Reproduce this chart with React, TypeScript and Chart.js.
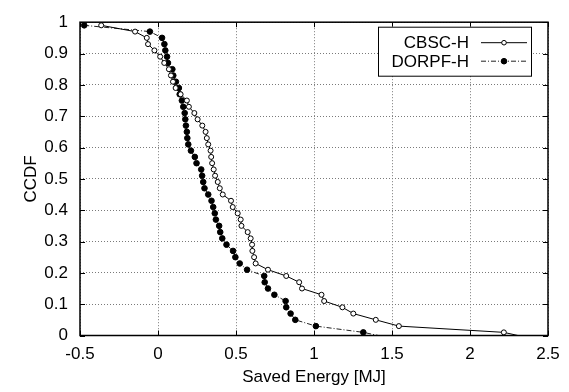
import { useEffect, useRef } from 'react';
import { Chart, registerables } from 'chart.js';

Chart.register(...registerables);

const seriesNames = ['CBSC-H', 'DORPF-H'];

const ccdfLevels = [
  0.99, 0.97, 0.95, 0.93, 0.91, 0.89, 0.87, 0.85, 0.83, 0.81,
  0.79, 0.77, 0.75, 0.73, 0.71, 0.69, 0.67, 0.65, 0.63, 0.61,
  0.59, 0.57, 0.55, 0.53, 0.51, 0.49, 0.47, 0.45, 0.43, 0.41,
  0.39, 0.37, 0.35, 0.33, 0.31, 0.29, 0.27, 0.25, 0.23, 0.21,
  0.19, 0.17, 0.15, 0.13, 0.11, 0.09, 0.07, 0.05, 0.03, 0.01,
  0,
];

const cbscEnergy = [
  -0.364, -0.147, -0.072, -0.064, -0.023, 0.014, 0.04, 0.07, 0.083, 0.096,
  0.113, 0.145, 0.185, 0.198, 0.233, 0.254, 0.284, 0.305, 0.313, 0.322,
  0.337, 0.341, 0.347, 0.357, 0.366, 0.383, 0.396, 0.415, 0.468, 0.479,
  0.511, 0.53, 0.535, 0.575, 0.594, 0.603, 0.605, 0.616, 0.626, 0.705,
  0.822, 0.905, 0.923, 1.048, 1.065, 1.182, 1.252, 1.396, 1.544, 2.217,
  2.307,
];

const dorpfEnergy = [
  -0.473, -0.052, 0.026, 0.041, 0.047, 0.058, 0.064, 0.092, 0.098, 0.115,
  0.134, 0.139, 0.153, 0.162, 0.171, 0.175, 0.179, 0.185, 0.188, 0.194,
  0.211, 0.236, 0.247, 0.277, 0.283, 0.29, 0.298, 0.322, 0.343, 0.354,
  0.364, 0.371, 0.392, 0.399, 0.412, 0.439, 0.481, 0.496, 0.524, 0.571,
  0.681, 0.684, 0.705, 0.746, 0.818, 0.822, 0.85, 0.88, 1.012, 1.316,
  1.412,
];

const xTickLabels = ['-0.5', '0', '0.5', '1', '1.5', '2', '2.5'];
const yTickLabels = ['0', '0.1', '0.2', '0.3', '0.4', '0.5', '0.6', '0.7', '0.8', '0.9', '1'];

const xTitle = 'Saved Energy [MJ]';
const yTitle = 'CCDF';

const FONT = '"Liberation Sans", Arial, Helvetica, sans-serif';

export default function App() {
  const ref = useRef<HTMLCanvasElement>(null);

  useEffect(() => {
    if (!ref.current) return;
    const last = ccdfLevels.length - 1;

    const framePlugin = {
      id: 'gnuFrame',
      afterDatasetsDraw(chart: any) {
        const { ctx, chartArea: a, scales } = chart;
        const xs = scales.x;
        const ys = scales.y;
        ctx.save();
        ctx.strokeStyle = '#000';
        ctx.lineWidth = 1;
        ctx.setLineDash([]);
        const tl = 5;
        xs.ticks.forEach((t: any) => {
          const p = Math.round(xs.getPixelForValue(t.value)) + 0.5;
          ctx.beginPath();
          ctx.moveTo(p, a.bottom);
          ctx.lineTo(p, a.bottom - tl);
          ctx.moveTo(p, a.top);
          ctx.lineTo(p, a.top + tl);
          ctx.stroke();
        });
        ys.ticks.forEach((t: any) => {
          const p = Math.round(ys.getPixelForValue(t.value)) + 0.5;
          ctx.beginPath();
          ctx.moveTo(a.left, p);
          ctx.lineTo(a.left + tl, p);
          ctx.moveTo(a.right, p);
          ctx.lineTo(a.right - tl, p);
          ctx.stroke();
        });
        ctx.lineWidth = 1.5;
        ctx.strokeRect(a.left, a.top, a.right - a.left, a.bottom - a.top);

        // legend box
        const bw = 153;
        const bh = 49;
        const bx = a.right - 17 - bw;
        const by = a.top + 4.5;
        ctx.fillStyle = '#fff';
        ctx.fillRect(bx, by, bw, bh);
        ctx.lineWidth = 1;
        ctx.strokeRect(bx + 0.5, by + 0.5, bw, bh);
        ctx.font = `17px ${FONT}`;
        ctx.textAlign = 'right';
        ctx.textBaseline = 'middle';
        ctx.fillStyle = '#000';
        chart.data.datasets.forEach((ds: any, i: number) => {
          const cy = by + 16 + i * 18.5;
          ctx.fillText(ds.label, bx + 91, cy + 1);
          const lx0 = bx + 103;
          const lx1 = bx + 149;
          ctx.beginPath();
          ctx.strokeStyle = ds.borderColor;
          ctx.lineWidth = ds.borderWidth;
          ctx.setLineDash(ds.borderDash || []);
          ctx.moveTo(lx0, cy);
          ctx.lineTo(lx1, cy);
          ctx.stroke();
          ctx.setLineDash([]);
          ctx.beginPath();
          ctx.arc((lx0 + lx1) / 2, cy, i === 0 ? 2.3 : 2.8, 0, Math.PI * 2);
          ctx.fillStyle = ds.pointBackgroundColor;
          ctx.fill();
          ctx.strokeStyle = '#000';
          ctx.lineWidth = 1;
          ctx.stroke();
          ctx.fillStyle = '#000';
        });
        ctx.restore();
      },
    };

    const chart = new Chart(ref.current, {
      type: 'scatter',
      data: {
        datasets: [
          {
            label: seriesNames[0],
            data: cbscEnergy.map((x, i) => ({ x, y: ccdfLevels[i] })),
            showLine: true,
            borderColor: '#000',
            borderWidth: 1,
            pointBackgroundColor: '#fff',
            pointBorderColor: '#000',
            pointBorderWidth: 1,
            pointRadius: ccdfLevels.map((_, i) => (i === last ? 0 : 2.5)),
            pointHoverRadius: 0,
          } as any,
          {
            label: seriesNames[1],
            data: dorpfEnergy.map((x, i) => ({ x, y: ccdfLevels[i] })),
            showLine: true,
            borderColor: '#222',
            borderWidth: 1,
            borderDash: [5, 2, 1, 2],
            pointBackgroundColor: '#000',
            pointBorderColor: '#000',
            pointBorderWidth: 1,
            pointRadius: ccdfLevels.map((_, i) => (i === last ? 0 : 2.8)),
            pointHoverRadius: 0,
          } as any,
        ],
      },
      plugins: [framePlugin],
      options: {
        animation: false,
        responsive: false,
        maintainAspectRatio: false,
        layout: { padding: { top: 14, right: 21, left: 0, bottom: 0 } },
        plugins: {
          legend: { display: false },
          tooltip: { enabled: false },
        },
        scales: {
          x: {
            type: 'linear',
            min: -0.5,
            max: 2.5,
            ticks: {
              stepSize: 0.5,
              color: '#000',
              padding: 9,
              font: { family: FONT, size: 17 },
              callback: (_v: any, i: number) => xTickLabels[i],
            },
            grid: { color: '#7a7a7a', lineWidth: 1, drawTicks: false },
            border: { display: false, dash: [1, 2] },
            title: {
              display: true,
              text: xTitle,
              color: '#000',
              font: { family: FONT, size: 17 },
              padding: { top: 0, bottom: 4 },
            },
            afterFit: (s: any) => {
              s.height = 56.5;
            },
          },
          y: {
            type: 'linear',
            min: 0,
            max: 1,
            ticks: {
              stepSize: 0.1,
              color: '#000',
              padding: 12,
              font: { family: FONT, size: 17 },
              callback: (_v: any, i: number) => yTickLabels[i],
            },
            grid: { color: '#7a7a7a', lineWidth: 1, drawTicks: false },
            border: { display: false, dash: [1, 2] },
            title: {
              display: true,
              text: yTitle,
              color: '#000',
              font: { family: FONT, size: 17 },
              padding: { top: 21, bottom: 0 },
            },
            afterFit: (s: any) => {
              s.width = 80;
            },
          },
        },
      } as any,
    });
    return () => chart.destroy();
  }, []);

  return (
    <div style={{ position: 'fixed', left: 0, top: 0, width: 569, height: 392, background: '#fff' }}>
      <canvas ref={ref} width={569} height={392} style={{ display: 'block' }} />
    </div>
  );
}
